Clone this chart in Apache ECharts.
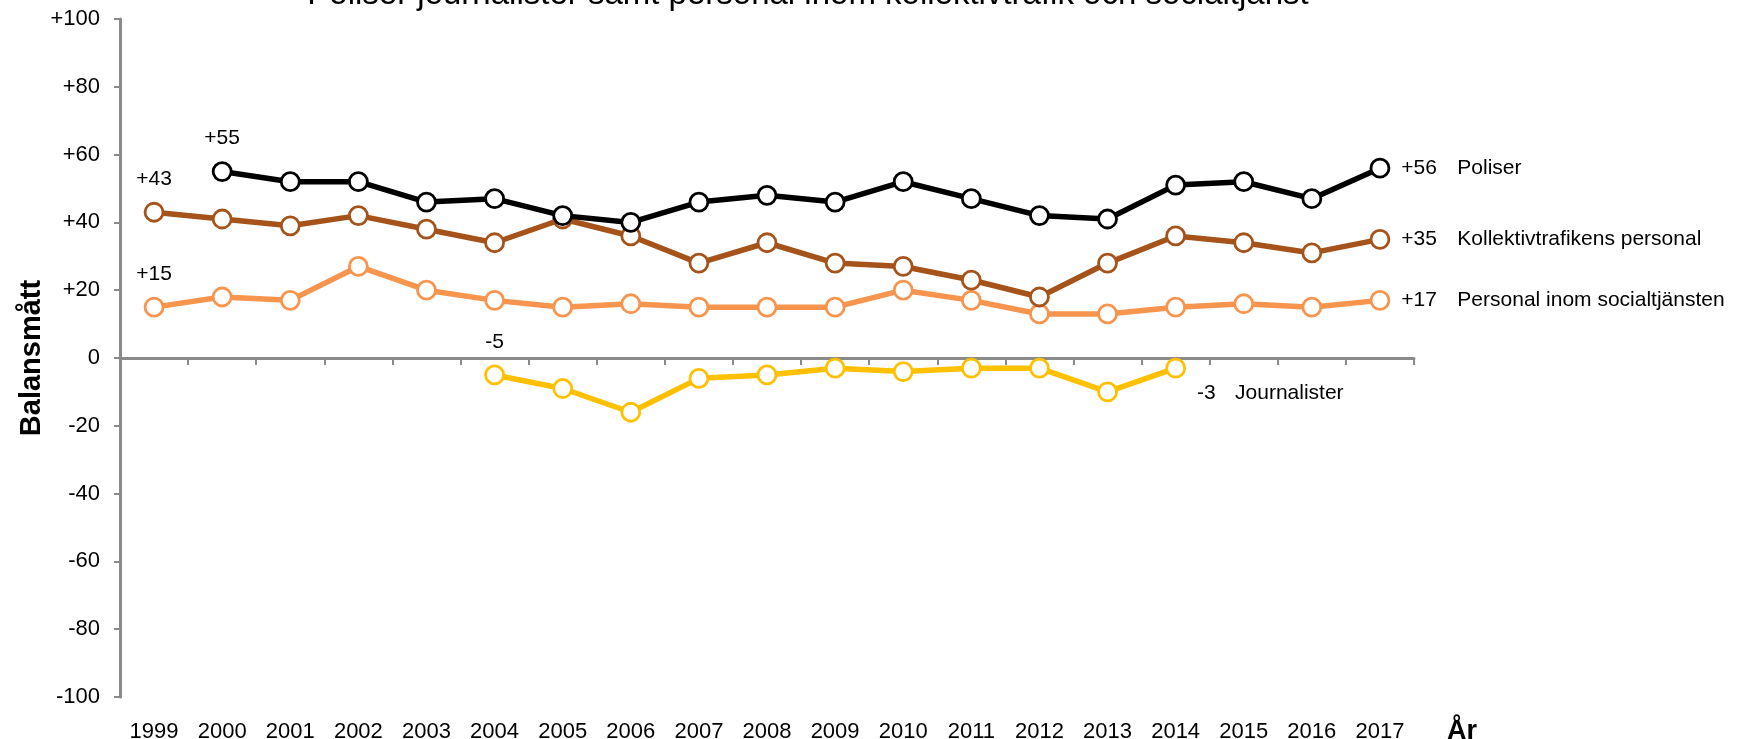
<!DOCTYPE html>
<html>
<head>
<meta charset="utf-8">
<script src="https://cdn.jsdelivr.net/npm/echarts@6/dist/echarts.min.js"></script>
<style>
html,body{margin:0;padding:0;background:#fff;}
#c{width:1748px;height:739px;}
</style>
</head>
<body>
<div id="c"></div>
<script>
const titleText = 'Poliser journalister samt personal inom kollektivtrafik och socialtjänst';
const years = ['1999','2000','2001','2002','2003','2004','2005','2006','2007','2008','2009','2010','2011','2012','2013','2014','2015','2016','2017'];
const poliser = [null,55,52,52,46,47,42,40,46,48,46,52,47,42,41,51,52,47,56];
const kollektiv = [43,41,39,42,38,34,41,36,28,34,28,27,23,18,28,36,34,31,35];
const social = [15,18,17,27,20,17,15,16,15,15,15,20,17,13,13,15,16,15,17];
const journalister = [null,null,null,null,null,-5,-9,-16,-6,-5,-3,-4,-3,-3,-10,-3,null,null,null];
const seriesNames = ['Poliser','Kollektivtrafikens personal','Personal inom socialtjänsten','Journalister'];
const yTicks = {min:-100, max:100, step:20};

const FONT = '"Liberation Sans", Arial, sans-serif';
const LFS = 21;
function fmt(v){ return v > 0 ? '+' + v : String(v); }

function build(values, name, valWidth, endOffset){
  let first = values.findIndex(v => v !== null);
  let last = values.length - 1; while (values[last] === null) last--;
  return values.map((v, i) => {
    if (v === null) return null;
    if (i === first) return {value: v, label: {show: true, position: 'top', distance: 12, formatter: fmt(v), fontSize: LFS, color: '#000', fontFamily: FONT}};
    if (i === last) return {value: v, label: {show: true, position: 'right', distance: 11, offset: endOffset,
      formatter: '{v|' + fmt(v) + '}{n|' + name + '}',
      rich: {v: {width: valWidth, fontSize: LFS, color: '#000', fontFamily: FONT}, n: {fontSize: LFS, color: '#000', fontFamily: FONT}}}};
    return v;
  });
}

const colors = ['#000000','#A5531A','#F7944E','#FFC000'];
const datas = [poliser, kollektiv, social, journalister];
const valWidths = [56,56,56,38];
const offsets = [[0,0],[0,0],[0,0],[0,25]];

const series = datas.map((d, k) => ({
  name: seriesNames[k], type: 'line', xAxisIndex: 0, yAxisIndex: 0,
  data: build(d, seriesNames[k], valWidths[k], offsets[k]),
  symbol: 'circle', symbolSize: 18, showAllSymbol: true,
  lineStyle: {color: colors[k], width: 5.5},
  itemStyle: {color: '#fff', borderColor: colors[k], borderWidth: 2.8},
  emphasis: {disabled: true}, animation: false, z: 10 - k
}));

const chart = echarts.init(document.getElementById('c'));
chart.setOption({
  animation: false,
  backgroundColor: '#fff',
  title: {text: titleText, left: 803, textAlign: 'center', top: -27,
    textStyle: {fontFamily: FONT, fontSize: 33, fontWeight: 'normal', color: '#000'}},
  grid: {left: 120, right: 334, top: 19, bottom: 42, containLabel: false, outerBoundsMode: 'none'},
  xAxis: [
    {type: 'category', data: years, position: 'bottom', boundaryGap: true, offset: 35,
     axisLine: {show: false, onZero: false}, axisTick: {show: false},
     axisLabel: {margin: 0, verticalAlign: 'middle', fontFamily: FONT, fontSize: 22, color: '#000'},
     name: 'År', nameLocation: 'end', nameGap: 33, nameMoveOverlap: false,
     nameTextStyle: {fontFamily: FONT, fontSize: 27, fontWeight: 'bold', color: '#000', verticalAlign: 'middle', align: 'left'}},
    {type: 'category', data: years, position: 'bottom', boundaryGap: true,
     axisLine: {show: true, onZero: true, lineStyle: {color: '#8a8a8a', width: 3}},
     axisTick: {show: true, length: 7, lineStyle: {color: '#8a8a8a', width: 2}},
     axisLabel: {show: false}}
  ],
  yAxis: {type: 'value', min: yTicks.min, max: yTicks.max, interval: yTicks.step,
    axisLine: {show: true, lineStyle: {color: '#8a8a8a', width: 3}},
    axisTick: {show: true, length: 6, lineStyle: {color: '#8a8a8a', width: 2}},
    splitLine: {show: false},
    axisLabel: {formatter: fmt, fontFamily: FONT, fontSize: 22, color: '#000', margin: 20},
    name: 'Balansmått', nameLocation: 'middle', nameGap: 74, nameRotate: 90, nameMoveOverlap: false,
    nameTextStyle: {fontFamily: FONT, fontSize: 29, fontWeight: 'bold', color: '#000'}},
  series: series
});
</script>
</body>
</html>
